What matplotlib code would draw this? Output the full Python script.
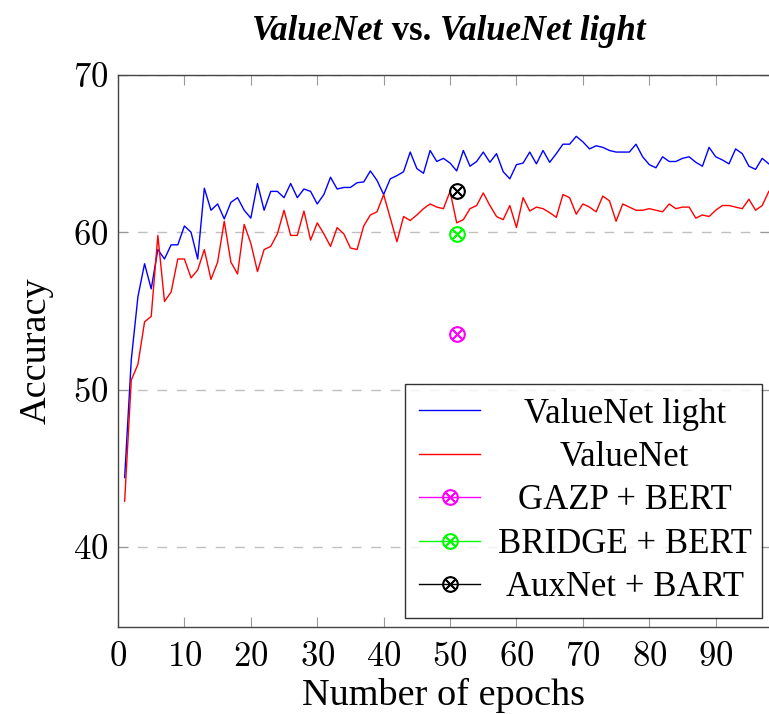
import numpy as np
import matplotlib
matplotlib.use("Agg")
import matplotlib.pyplot as plt
from matplotlib.ticker import FuncFormatter

# ──────────────────────────────────────────────────────────────────────
# Data
# ──────────────────────────────────────────────────────────────────────

epochs = list(range(1, 99))

valuenet_light = [
    44.4, 51.9, 55.9, 58.0, 56.4, 58.9, 58.3, 59.2, 59.2, 60.4,
    60.0, 58.3, 62.8, 61.4, 61.8, 60.85, 61.9, 62.2, 61.4, 60.9,
    63.1, 61.4, 62.6, 62.6, 62.2, 63.1, 62.2, 62.75, 62.6, 61.8,
    62.4, 63.5, 62.75, 62.85, 62.85, 63.15, 63.2, 63.9, 63.3, 62.4,
    63.4, 63.6, 63.85, 65.1, 64.05, 63.75, 65.2, 64.5, 64.7, 64.4,
    63.9, 65.2, 64.2, 64.5, 65.1, 64.45, 65.0, 63.85, 63.4, 64.3,
    64.4, 65.1, 64.35, 65.2, 64.45, 65.0, 65.6, 65.6, 66.1, 65.75,
    65.3, 65.5, 65.4, 65.2, 65.1, 65.1, 65.1, 65.6, 64.8, 64.3,
    64.1, 64.8, 64.5, 64.5, 64.7, 64.8, 64.45, 64.2, 65.4, 64.8,
    64.6, 64.35, 65.3, 65.0, 64.2, 64.0, 64.7, 64.35,
]

valuenet = [
    42.9, 50.6, 51.6, 54.3, 54.65, 59.8, 55.6, 56.2, 58.3, 58.3,
    57.1, 57.6, 58.9, 57.0, 58.1, 60.7, 58.1, 57.35, 60.5, 59.3,
    57.5, 58.9, 59.1, 59.9, 61.4, 59.8, 59.8, 61.35, 59.5, 60.6,
    59.9, 59.1, 60.3, 59.9, 59.0, 58.9, 60.4, 61.1, 61.3, 62.4,
    60.9, 59.4, 61.0, 60.75, 61.1, 61.5, 61.8, 61.6, 61.5, 62.6,
    60.6, 60.8, 61.5, 61.7, 62.5, 61.7, 61.0, 60.8, 61.7, 60.3,
    62.2, 61.35, 61.6, 61.5, 61.25, 60.95, 62.4, 62.2, 61.15, 61.8,
    61.6, 61.3, 62.3, 62.0, 60.7, 61.8, 61.6, 61.4, 61.4, 61.5,
    61.4, 61.3, 61.8, 61.5, 61.6, 61.6, 60.9, 61.1, 61.0, 61.4,
    61.7, 61.7, 61.6, 61.5, 62.1, 61.4, 61.7, 62.6,
]

# single reference results (epoch, accuracy)
baseline_names = ["GAZP + BERT", "BRIDGE + BERT", "AuxNet + BART"]
baseline_epochs = [51, 51, 51]
baseline_acc = [53.5, 59.9, 62.6]
baseline_colors = ["#ff00ff", "#00ff00", "black"]

x_ticks = [0, 10, 20, 30, 40, 50, 60, 70, 80, 90]
y_ticks = [40, 50, 60, 70]

# ──────────────────────────────────────────────────────────────────────
# Plot
# ──────────────────────────────────────────────────────────────────────

plt.rcParams["font.family"] = "Liberation Serif"
plt.rcParams["mathtext.fontset"] = "cm"

W, H = 769, 714
fig = plt.figure(figsize=(W / 100, H / 100), dpi=100)
ax = fig.add_axes([118 / W, 1 - 627 / H, (769.5 - 118) / W, (627 - 75) / H])

ax.plot(epochs, valuenet_light, color="#0000ff", lw=1.0, label="ValueNet light")
ax.plot(epochs, valuenet, color="#ff0000", lw=1.0, label="ValueNet")
for name, e, a, c in zip(baseline_names, baseline_epochs, baseline_acc, baseline_colors):
    ax.plot([e], [a], color=c, lw=1.0, marker=r"$\otimes$", markersize=11,
            label=name)

ax.set_xlim(0, 98.1)
ax.set_ylim(34.9, 70)
ax.set_xticks(x_ticks)
ax.set_yticks(y_ticks)
fmt = FuncFormatter(lambda v, p: f"${v:g}$")
ax.xaxis.set_major_formatter(fmt)
ax.yaxis.set_major_formatter(fmt)
ax.tick_params(direction="in", top=True, right=True, length=7, width=0.8,
               color="#999999", labelsize=25, pad=10)
ax.tick_params(axis="y", pad=7)
ax.yaxis.grid(True, linestyle=(0, (7, 7)), color="#c0c0c0", lw=1.0)
ax.set_axisbelow(True)
for s in ax.spines.values():
    s.set_color("#444444")
    s.set_linewidth(1.0)

ax.set_xlabel("Number of epochs", fontsize=27.5, labelpad=3)
ax.set_ylabel("Accuracy", fontsize=27.5, labelpad=14)

LFS = 25
leg = ax.legend(loc="lower right", bbox_to_anchor=(0.988, 0.016), fontsize=LFS,
                frameon=True, fancybox=False, edgecolor="black",
                handlelength=1.75, handletextpad=0.4, labelspacing=0.3,
                borderpad=0.4, borderaxespad=0.0)
leg.get_frame().set_linewidth(1.0)

# title in mixed bold-italic / bold, chained pieces
tkw = dict(fontsize=25, fontweight="bold", family="Liberation Serif")
t1 = fig.text(252 / W, 1 - 40 / H, "ValueNet", style="italic", va="baseline", **tkw)
t2 = ax.annotate(" vs. ", xycoords=t1, xy=(1, 0), va="bottom", **tkw)
t3 = ax.annotate("ValueNet light", xycoords=t2, xy=(1, 0), va="bottom",
                 style="italic", **tkw)

# centre legend labels in the space right of the handles
fig.canvas.draw()
r = fig.canvas.get_renderer()
fb = leg.get_frame().get_window_extent(r)
for t in leg.get_texts():
    bb = t.get_window_extent(r)
    cx = (bb.x0 + fb.x1 - 6) / 2
    fig.text(cx / W, bb.y0 / H, t.get_text(), fontsize=LFS, ha="center",
             va="bottom")
    t.set_alpha(0)

fig.savefig("out.png", dpi=100)
